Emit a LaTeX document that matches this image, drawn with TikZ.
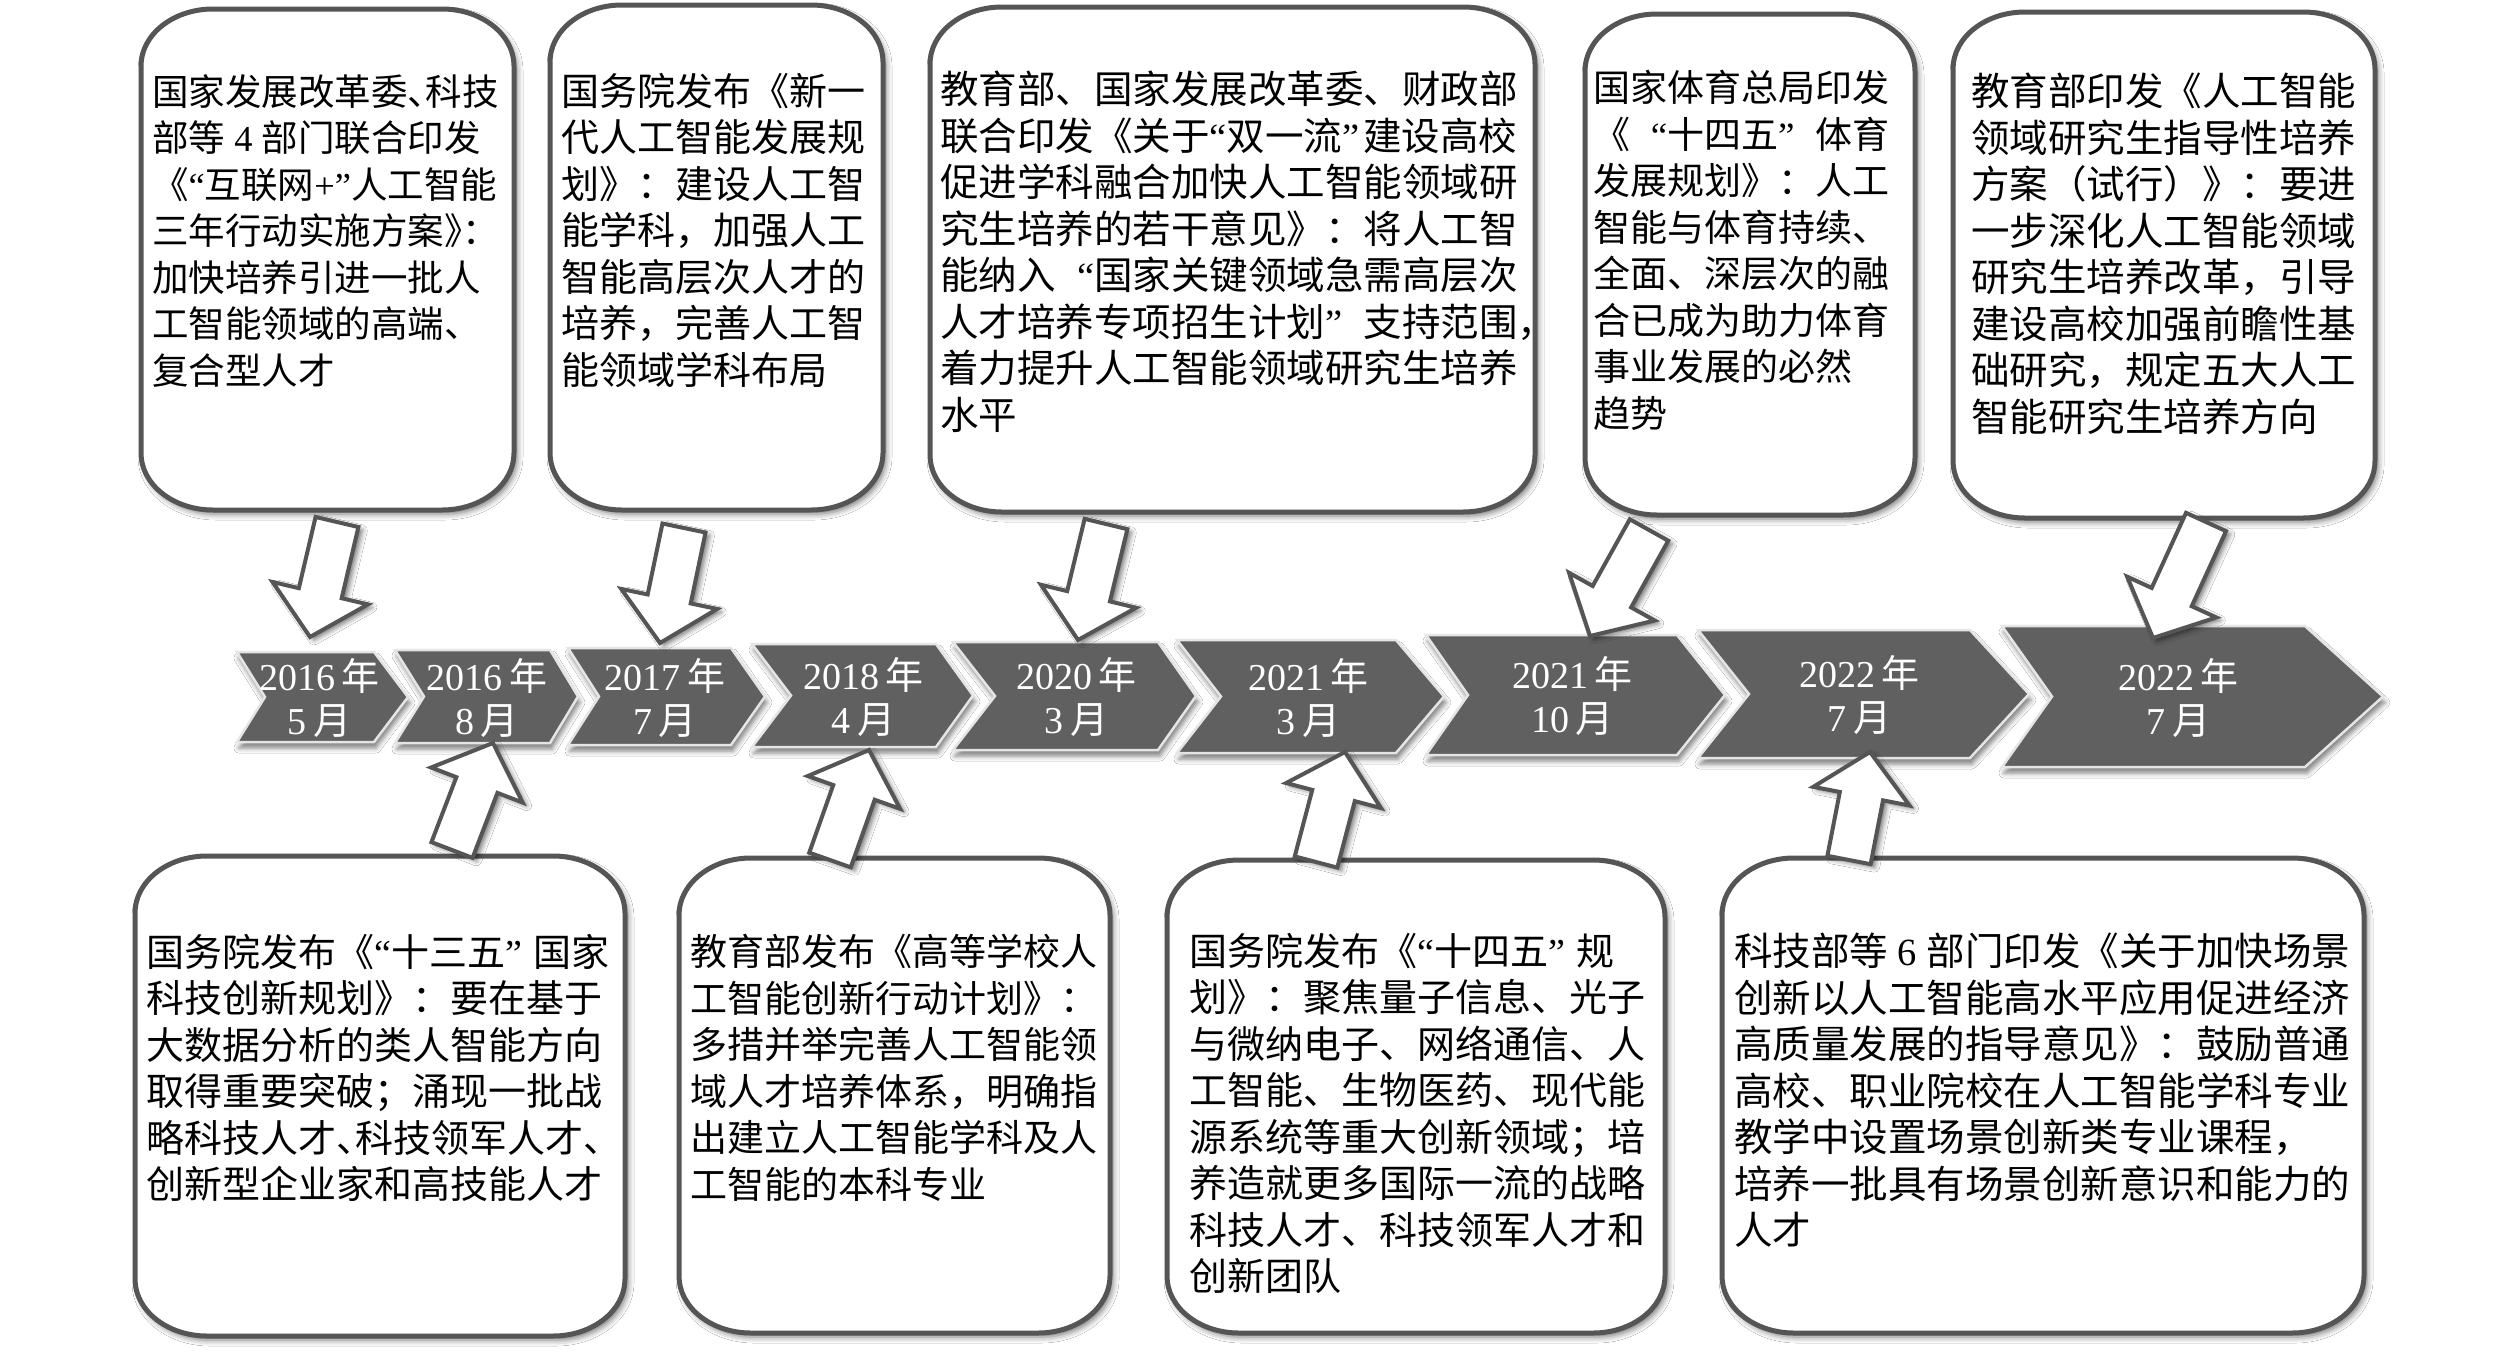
\documentclass[tikz,border=0pt]{standalone}
\usepackage{fontspec}
\setmainfont{Noto Sans CJK SC}
\newfontfamily\lat{Liberation Serif}
\usetikzlibrary{calc,shadows.blur}
\definecolor{linegray}{HTML}{555555}
\definecolor{chevgray}{HTML}{606060}
\newcommand\ql{{\lat “}}
\newcommand\qr{{\lat ”}}
\newcommand\Ql{\makebox[1em][r]{\lat “}}
\newcommand\Qr{\makebox[1em][l]{\lat ”}}
\newcommand\hp[1]{\makebox[.5em][l]{#1}}
\newcommand\la[1]{{\lat #1}}
\tikzset{
  box/.style={draw=linegray, line width=5pt, fill=white,
    blur shadow={shadow xshift=3pt, shadow yshift=-4pt, shadow blur radius=6pt, shadow opacity=55}},
  txt/.style={anchor=north west, inner sep=0pt, align=left, text=black},
  chev/.style={fill=chevgray, draw=white!90!black, line width=2.5pt, line join=miter,
    blur shadow={shadow xshift=2pt, shadow yshift=-6pt, shadow blur radius=5pt, shadow opacity=50}},
  chevtxt/.style={text=white, align=center, inner sep=0pt, font=\fontsize{38}{44}\selectfont},
  arr/.style={fill=white, draw=linegray, line width=4pt, line join=miter,
    blur shadow={shadow xshift=4pt, shadow yshift=-3pt, shadow blur radius=5pt, shadow opacity=55}}
}
% rounded box with elliptic corners: x y w h
\newcommand\rbox[4]{%
  \path[box] ({#1+72},#2) -- ({#1+#3-72},#2)
    arc[start angle=-90,end angle=0,x radius=72,y radius=57] -- ({#1+#3},{#2+#4-57})
    arc[start angle=0,end angle=90,x radius=72,y radius=57] -- ({#1+72},{#2+#4})
    arc[start angle=90,end angle=180,x radius=72,y radius=57] -- (#1,{#2+57})
    arc[start angle=180,end angle=270,x radius=72,y radius=57] -- cycle;}
% block arrow from tail #1 to tip #2
\newcommand\blockarrow[2]{%
  \path[arr] let \p1=(#1), \p2=(#2), \n1={atan2(\y2-\y1,\x2-\x1)}, \n2={veclen(\x2-\x1,\y2-\y1)} in
    ([shift={(\p2)},rotate=\n1]0pt,0pt)
 -- ([shift={(\p2)},rotate=\n1]-45pt,49pt)
 -- ([shift={(\p2)},rotate=\n1]-45pt,22pt)
 -- ([shift={(\p2)},rotate=\n1]-\n2,22pt)
 -- ([shift={(\p2)},rotate=\n1]-\n2,-22pt)
 -- ([shift={(\p2)},rotate=\n1]-45pt,-22pt)
 -- ([shift={(\p2)},rotate=\n1]-45pt,-49pt) -- cycle;}
% chevron: name, xl, xr, tip depth, notch depth, top, bottom, year, month
\newcommand\chev[9]{%
  \path[chev] (#2,#6) -- (#3,#6) -- ({#3+#4},{(#6+#7)/2}) -- (#3,#7) -- (#2,#7)
     -- ({#2+#5},{(#6+#7)/2}) -- cycle;
  \node[chevtxt] (#1) at ({(#2+#5+#3)/2},{(#6+#7)/2+1}) {\la{#8}\,年\\\la{#9}\,月};}
\begin{document}
\begin{tikzpicture}[x=1pt,y=-1pt]
\useasboundingbox[fill=white] (0,0) rectangle (2520,1355);
% boxes
\rbox{141}{9}{373}{501}
\rbox{550}{5}{333}{505}
\rbox{930}{7}{605}{505}
\rbox{1585}{14}{330}{501}
\rbox{1953}{12}{422}{506}
\rbox{135}{856}{490}{480}
\rbox{679}{858}{431}{475}
\rbox{1167}{860}{498}{473}
\rbox{1722}{858}{642}{475}
% chevrons
\chev{c1}{237}{374}{34}{28}{652}{742}{2016}{5}
\chev{c2}{395}{550}{28}{29}{650}{743}{2016}{8}
\chev{c3}{568}{731}{34}{31}{648}{745}{2017}{7}
\chev{c4}{752}{936}{37}{39}{644}{747}{2018}{4}
\chev{c5}{953}{1158}{38}{42}{642}{750}{2020}{3}
\chev{c6}{1177}{1396}{48}{44}{640}{753}{2021}{3}
\chev{c7}{1426}{1677}{48}{42}{635}{755}{2021}{10}
\chev{c8}{1698}{1970}{59}{51}{630}{758}{2022}{7}
\chev{c9}{2002}{2305}{78}{50}{626}{767}{2022}{7}
% arrow ends
\coordinate (a1s) at (337,522); \coordinate (a1e) at (310,637);
\coordinate (a2s) at (684,528); \coordinate (a2e) at (660,643);
\coordinate (a3s) at (1106,524); \coordinate (a3e) at (1078,640);
\coordinate (a4s) at (1649,530); \coordinate (a4e) at (1590,636);
\coordinate (a5s) at (2206,522); \coordinate (a5e) at (2153,638);
\coordinate (b1s) at (452,850); \coordinate (b1e) at (493,743);
\coordinate (b2s) at (830,860); \coordinate (b2e) at (869,750);
\coordinate (b3s) at (1316,862); \coordinate (b3e) at (1345,752);
\coordinate (b4s) at (1849,860); \coordinate (b4e) at (1870,752);
\blockarrow{a1s}{a1e}
\blockarrow{a2s}{a2e}
\blockarrow{a3s}{a3e}
\blockarrow{a4s}{a4e}
\blockarrow{a5s}{a5e}
\blockarrow{b1s}{b1e}
\blockarrow{b2s}{b2e}
\blockarrow{b3s}{b3e}
\blockarrow{b4s}{b4e}
% texts
\node[txt, font=\fontsize{36.5}{46.5}\selectfont] (t1x) at (152,74) {%
国家发展改革委\hp{、}科技\\
部等\hspace{.25em}\la{4}\hspace{.25em}部门联合印发\\
《\ql 互联网\la{+}\qr 人工智能\\
三年行动实施方案\hp{》}\hp{：}\\
加快培养引进一批人\\
工智能领域的高端、\\
复合型人才};
\node[txt, font=\fontsize{38}{46.5}\selectfont] (t2x) at (561,73) {%
国务院发布《新一\\
代人工智能发展规\\
划》：建设人工智\\
能学科，加强人工\\
智能高层次人才的\\
培养，完善人工智\\
能领域学科布局};
\node[txt, font=\fontsize{38.5}{46.5}\selectfont] (t3x) at (940,71) {%
教育部、国家发展改革委、财政部\\
联合印发《关于\ql 双一流\qr\hspace{.1em}建设高校\\
促进学科融合加快人工智能领域研\\
究生培养的若干意见》：将人工智\\
能纳入\Ql 国家关键领域急需高层次\\
人才培养专项招生计划\Qr 支持范围，\\
着力提升人工智能领域研究生培养\\
水平};
\node[txt, font=\fontsize{37}{46.5}\selectfont] (t4x) at (1593,70) {%
国家体育总局印发\\
《\Ql 十四五\Qr 体育\\
发展规划》：人工\\
智能与体育持续、\\
全面、深层次的融\\
合已成为助力体育\\
事业发展的必然\\
趋势};
\node[txt, font=\fontsize{38.5}{46.5}\selectfont] (t5x) at (1971,73) {%
教育部印发《人工智能\\
领域研究生指导性培养\\
方案（试行）》：要进\\
一步深化人工智能领域\\
研究生培养改革，引导\\
建设高校加强前瞻性基\\
础研究，规定五大人工\\
智能研究生培养方向};
\node[txt, font=\fontsize{38}{46.5}\selectfont] (b1x) at (146,934) {%
国务院发布《\ql 十三五\qr\hspace{.3em}国家\\
科技创新规划》：要在基于\\
大数据分析的类人智能方向\\
取得重要突破；涌现一批战\\
略科技人才\hp{、}科技领军人才\hp{、}\\
创新型企业家和高技能人才};
\node[txt, font=\fontsize{37}{46.5}\selectfont] (b2x) at (690,934) {%
教育部发布《高等学校人\\
工智能创新行动计划》：\\
多措并举完善人工智能领\\
域人才培养体系，明确指\\
出建立人工智能学科及人\\
工智能的本科专业};
\node[txt, font=\fontsize{38}{46.5}\selectfont] (b3x) at (1189,933) {%
国务院发布《\ql 十四五\qr\hspace{.3em}规\\
划》：聚焦量子信息、光子\\
与微纳电子、网络通信、人\\
工智能、生物医药、现代能\\
源系统等重大创新领域；培\\
养造就更多国际一流的战略\\
科技人才、科技领军人才和\\
创新团队};
\node[txt, font=\fontsize{38.5}{46.5}\selectfont] (b4x) at (1734,933) {%
科技部等\hspace{.25em}\la{6}\hspace{.25em}部门印发《关于加快场景\\
创新以人工智能高水平应用促进经济\\
高质量发展的指导意见》：鼓励普通\\
高校、职业院校在人工智能学科专业\\
教学中设置场景创新类专业课程，\\
培养一批具有场景创新意识和能力的\\
人才};
\end{tikzpicture}
\end{document}
